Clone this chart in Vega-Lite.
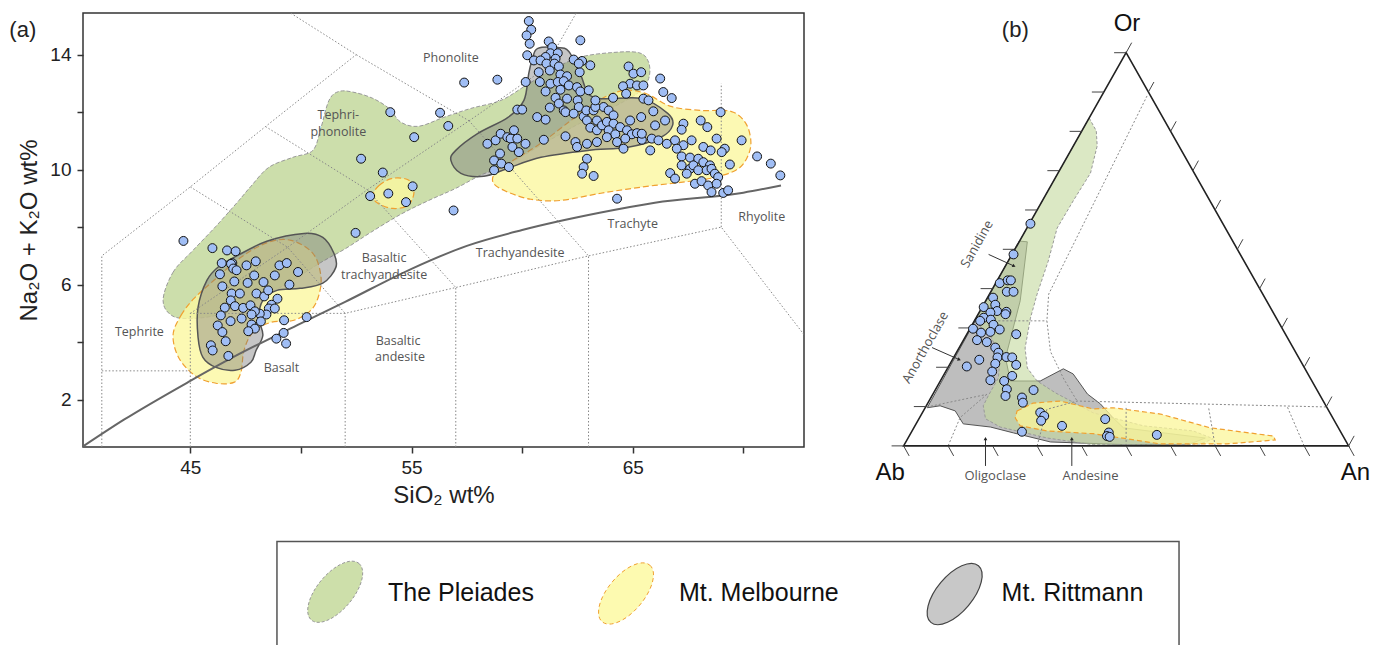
{
"$schema": "https://vega.github.io/schema/vega-lite/v6.json",
"padding": {"left": 8, "top": 12, "right": 0, "bottom": 0},
"background": "white",
"config": {"view": {"stroke": null}, "font": "Liberation Sans"},
"spacing": 29,
"vconcat": [
{"hconcat": [
{
"width": 721, "height": 434,
"view": {"stroke": "#333", "strokeWidth": 1.5},
"encoding": {
 "x": {"field": "x", "type": "quantitative", "scale": {"domain": [40.15, 72.74], "nice": false, "zero": false},
  "axis": {"values": [45, 50, 55, 60, 65, 70], "labelExpr": "datum.value % 10 == 5 ? datum.label : ''", "title": "SiO\u2082 wt%", "grid": false, "domain": false, "tickSize": 6, "tickColor": "#333", "tickWidth": 1.5, "labelFont": "Liberation Sans", "labelFontSize": 19, "labelColor": "#222", "labelPadding": 5, "titleFont": "Liberation Sans", "titleFontSize": 24, "titleFontWeight": "normal", "titleColor": "#222", "titlePadding": 6}},
 "y": {"field": "y", "type": "quantitative", "scale": {"domain": [0.351, 15.45], "nice": false, "zero": false},
  "axis": {"values": [2, 4, 6, 8, 10, 12, 14], "labelExpr": "datum.value % 4 == 2 ? datum.label : ''", "title": "Na\u2082O + K\u2082O wt%", "grid": false, "domain": false, "tickSize": 6, "tickColor": "#333", "tickWidth": 1.5, "labelFont": "Liberation Sans", "labelFontSize": 19, "labelColor": "#222", "labelPadding": 6, "titleFont": "Liberation Sans", "titleFontSize": 24, "titleFontWeight": "normal", "titleColor": "#222", "titlePadding": 8}}
},
"layer": [
 {"data": {"values": [{"x":43.77,"y":5.45},{"x":44.22,"y":6.43},{"x":45.12,"y":7.19},{"x":46.16,"y":8.03},{"x":47.2,"y":8.93},{"x":47.74,"y":9.42},{"x":48.55,"y":10.08},{"x":49.64,"y":10.43},{"x":50.54,"y":10.67},{"x":50.9,"y":11.44},{"x":51.27,"y":12.41},{"x":51.72,"y":12.72},{"x":52.4,"y":12.69},{"x":53.25,"y":12.48},{"x":53.98,"y":12.13},{"x":54.52,"y":11.65},{"x":55.33,"y":11.51},{"x":56.46,"y":11.82},{"x":57.68,"y":12.13},{"x":59.04,"y":12.41},{"x":60.17,"y":12.93},{"x":61.3,"y":13.45},{"x":62.56,"y":13.9},{"x":64.01,"y":14.07},{"x":65.27,"y":14.07},{"x":65.72,"y":13.73},{"x":65.72,"y":13.17},{"x":65.27,"y":12.69},{"x":64.01,"y":12.13},{"x":62.43,"y":11.54},{"x":60.85,"y":10.85},{"x":59.26,"y":10.15},{"x":58.13,"y":9.81},{"x":57.0,"y":9.35},{"x":55.78,"y":8.93},{"x":54.52,"y":8.45},{"x":53.16,"y":7.82},{"x":52.03,"y":7.26},{"x":50.9,"y":6.77},{"x":49.77,"y":6.22},{"x":48.65,"y":5.73},{"x":47.52,"y":5.28},{"x":46.39,"y":4.97},{"x":45.26,"y":4.83},{"x":44.22,"y":4.9}]},
  "mark": {"type": "line", "interpolate": "cardinal-closed", "fill": "#c3d89c", "fillOpacity": 0.85, "stroke": "#999", "strokeWidth": 1, "strokeDash": [4, 2]},
  "encoding": {"order": {"value": null}}},
 {"data": {"values": [
  {"p":"a","x":44.22,"y":4.24},{"p":"a","x":44.58,"y":4.93},{"p":"a","x":45.17,"y":5.52},{"p":"a","x":46.07,"y":6.15},{"p":"a","x":47.29,"y":6.95},{"p":"a","x":48.51,"y":7.47},{"p":"a","x":49.55,"y":7.54},{"p":"a","x":50.54,"y":7.09},{"p":"a","x":50.9,"y":6.32},{"p":"a","x":50.81,"y":5.63},{"p":"a","x":50.45,"y":5.11},{"p":"a","x":49.68,"y":4.76},{"p":"a","x":48.65,"y":4.69},{"p":"a","x":47.83,"y":4.34},{"p":"a","x":47.43,"y":3.72},{"p":"a","x":47.29,"y":2.95},{"p":"a","x":46.97,"y":2.6},{"p":"a","x":46.16,"y":2.57},{"p":"a","x":45.26,"y":2.81},{"p":"a","x":44.49,"y":3.44},
  {"p":"b","x":53.25,"y":9.1},{"p":"b","x":53.53,"y":9.45},{"p":"b","x":54.16,"y":9.7},{"p":"b","x":54.88,"y":9.63},{"p":"b","x":55.11,"y":9.21},{"p":"b","x":54.84,"y":8.76},{"p":"b","x":54.16,"y":8.65},{"p":"b","x":53.48,"y":8.83},
  {"p":"c","x":58.68,"y":9.56},{"p":"c","x":58.86,"y":9.98},{"p":"c","x":59.58,"y":10.32},{"p":"c","x":60.85,"y":10.92},{"p":"c","x":62.2,"y":11.71},{"p":"c","x":63.47,"y":12.41},{"p":"c","x":64.55,"y":12.75},{"p":"c","x":65.59,"y":12.65},{"p":"c","x":66.72,"y":12.2},{"p":"c","x":68.08,"y":12.06},{"p":"c","x":69.43,"y":12.03},{"p":"c","x":70.11,"y":11.61},{"p":"c","x":70.34,"y":10.95},{"p":"c","x":70.15,"y":10.39},{"p":"c","x":69.66,"y":9.98},{"p":"c","x":68.53,"y":9.7},{"p":"c","x":67.17,"y":9.56},{"p":"c","x":65.36,"y":9.39},{"p":"c","x":63.56,"y":9.18},{"p":"c","x":61.75,"y":8.93},{"p":"c","x":60.39,"y":8.97},{"p":"c","x":59.26,"y":9.25}]},
  "mark": {"type": "line", "interpolate": "cardinal-closed", "fill": "#fbf7a0", "fillOpacity": 0.8, "stroke": "#f0a030", "strokeWidth": 1.2, "strokeDash": [6, 3]},
  "encoding": {"order": {"value": null}, "detail": {"field": "p"}}},
 {"data": {"values": [
  {"p":"a","x":60.71,"y":14.22},{"p":"a","x":61.57,"y":14.25},{"p":"a","x":62.11,"y":14.11},{"p":"a","x":62.65,"y":13.28},{"p":"a","x":63.24,"y":12.51},{"p":"a","x":65.36,"y":12.48},{"p":"a","x":66.58,"y":11.96},{"p":"a","x":66.8,"y":11.54},{"p":"a","x":66.26,"y":11.12},{"p":"a","x":64.78,"y":10.78},{"p":"a","x":62.97,"y":10.67},{"p":"a","x":60.85,"y":10.43},{"p":"a","x":59.36,"y":10.05},{"p":"a","x":58.27,"y":9.77},{"p":"a","x":57.23,"y":9.87},{"p":"a","x":56.78,"y":10.32},{"p":"a","x":57.0,"y":10.67},{"p":"a","x":58.0,"y":11.26},{"p":"a","x":59.36,"y":11.82},{"p":"a","x":60.08,"y":12.41},{"p":"a","x":60.3,"y":13.35},{"p":"a","x":60.48,"y":13.9},
  {"p":"b","x":47.06,"y":6.98},{"p":"b","x":48.46,"y":7.51},{"p":"b","x":50.14,"y":7.78},{"p":"b","x":50.99,"y":7.64},{"p":"b","x":51.49,"y":7.09},{"p":"b","x":51.58,"y":6.6},{"p":"b","x":50.99,"y":6.05},{"p":"b","x":49.96,"y":5.87},{"p":"b","x":48.92,"y":5.8},{"p":"b","x":48.28,"y":5.45},{"p":"b","x":48.1,"y":4.83},{"p":"b","x":48.28,"y":4.24},{"p":"b","x":47.97,"y":3.71},{"p":"b","x":47.74,"y":3.3},{"p":"b","x":47.02,"y":3.02},{"p":"b","x":46.16,"y":3.12},{"p":"b","x":45.57,"y":3.47},{"p":"b","x":45.35,"y":4.17},{"p":"b","x":45.35,"y":5.21},{"p":"b","x":45.75,"y":6.15},{"p":"b","x":46.3,"y":6.64}]},
  "mark": {"type": "line", "interpolate": "cardinal-closed", "fill": "#787878", "fillOpacity": 0.42, "stroke": "#555", "strokeWidth": 1.5},
  "encoding": {"order": {"value": null}, "detail": {"field": "p"}}},
 {"data": {"values": [
  {"s":1,"x":41,"y":0.351},{"s":1,"x":41,"y":7},{"s":1,"x":45,"y":9.4},{"s":1,"x":48.4,"y":11.5},{"s":1,"x":52.5,"y":14},{"s":1,"x":48.4,"y":16},
  {"s":2,"x":41,"y":3},{"s":2,"x":45,"y":3},
  {"s":3,"x":45,"y":0.351},{"s":3,"x":45,"y":5},{"s":3,"x":52,"y":5},{"s":3,"x":57,"y":5.9},{"s":3,"x":63,"y":7},{"s":3,"x":69,"y":8},{"s":3,"x":77,"y":0},
  {"s":4,"x":52,"y":0.351},{"s":4,"x":52,"y":5},
  {"s":5,"x":57,"y":0.351},{"s":5,"x":57,"y":5.9},
  {"s":6,"x":63,"y":0.351},{"s":6,"x":63,"y":7},
  {"s":7,"x":45,"y":5},{"s":7,"x":49.4,"y":7.3},{"s":7,"x":52,"y":5},
  {"s":8,"x":49.4,"y":7.3},{"s":8,"x":53,"y":9.3},{"s":8,"x":57,"y":5.9},
  {"s":9,"x":53,"y":9.3},{"s":9,"x":57.6,"y":11.7},{"s":9,"x":63,"y":7},
  {"s":10,"x":45,"y":9.4},{"s":10,"x":49.4,"y":7.3},
  {"s":11,"x":48.4,"y":11.5},{"s":11,"x":53,"y":9.3},
  {"s":12,"x":52.5,"y":14},{"s":12,"x":57.6,"y":11.7},
  {"s":13,"x":57.6,"y":11.7},{"s":13,"x":61,"y":13.5},{"s":13,"x":63,"y":16.2},
  {"s":14,"x":69,"y":8},{"s":14,"x":69,"y":13}]},
  "mark": {"type": "line", "stroke": "#888", "strokeWidth": 1, "strokeDash": [1.5, 2], "clip": true},
  "encoding": {"order": {"value": null}, "detail": {"field": "s"}}},
 {"data": {"values": [{"x":40.15,"y":0.37},{"x":42,"y":1.3},{"x":45,"y":2.65},{"x":47,"y":3.5},{"x":50,"y":4.65},{"x":52,"y":5.4},{"x":55,"y":6.55},{"x":57.5,"y":7.35},{"x":60,"y":7.9},{"x":63.5,"y":8.5},{"x":66,"y":8.85},{"x":70,"y":9.2},{"x":71.7,"y":9.45}]},
  "mark": {"type": "line", "interpolate": "monotone", "stroke": "#666", "strokeWidth": 2},
  "encoding": {"order": {"value": null}}},
 {"data": {"values": [{"x":56.78,"y":13.87,"t":"Phonolite"},{"x":51.69,"y":11.91,"t":"Tephri-"},{"x":51.69,"y":11.31,"t":"phonolite"},{"x":53.76,"y":6.91,"t":"Basaltic"},{"x":53.76,"y":6.33,"t":"trachyandesite"},{"x":59.91,"y":7.09,"t":"Trachyandesite"},{"x":65.0,"y":8.1,"t":"Trachyte"},{"x":70.83,"y":8.34,"t":"Rhyolite"},{"x":42.7,"y":4.34,"t":"Tephrite"},{"x":49.12,"y":3.09,"t":"Basalt"},{"x":54.39,"y":4.03,"t":"Basaltic"},{"x":54.48,"y":3.47,"t":"andesite"}]},
  "mark": {"type": "text", "font": "Open Sans", "fontSize": 12.5, "color": "#555", "align": "center", "baseline": "middle"},
  "encoding": {"text": {"field": "t"}}},
 {"data": {"values": [
  {"x":44.69,"y":7.52},{"x":46.0,"y":7.27},{"x":46.66,"y":7.19},{"x":47.05,"y":7.16},{"x":46.42,"y":6.75},{"x":46.9,"y":6.75},{"x":46.84,"y":6.72},{"x":46.94,"y":6.56},{"x":47.09,"y":6.5},{"x":47.54,"y":6.67},{"x":47.96,"y":6.81},{"x":46.34,"y":6.36},{"x":46.99,"y":6.11},{"x":47.59,"y":6.06},{"x":47.89,"y":6.32},{"x":48.31,"y":6.09},{"x":49.03,"y":6.67},{"x":49.36,"y":6.75},{"x":49.87,"y":6.44},{"x":48.82,"y":6.32},{"x":49.48,"y":6.0},{"x":46.45,"y":5.94},{"x":46.87,"y":5.69},{"x":47.24,"y":5.69},{"x":46.83,"y":5.45},{"x":46.56,"y":5.2},{"x":47.02,"y":5.25},{"x":47.39,"y":5.19},{"x":47.72,"y":5.28},{"x":47.99,"y":5.69},{"x":48.34,"y":5.59},{"x":48.52,"y":5.8},{"x":48.94,"y":5.51},{"x":48.67,"y":5.3},{"x":48.55,"y":5.17},{"x":48.82,"y":5.17},{"x":48.44,"y":4.96},{"x":48.14,"y":4.99},{"x":47.92,"y":5.07},{"x":46.38,"y":4.93},{"x":46.82,"y":4.73},{"x":47.32,"y":4.82},{"x":47.77,"y":4.96},{"x":48.19,"y":4.72},{"x":47.77,"y":4.61},{"x":47.92,"y":4.47},{"x":47.62,"y":4.38},{"x":46.24,"y":4.58},{"x":46.45,"y":4.35},{"x":46.6,"y":4.03},{"x":45.93,"y":3.89},{"x":46.01,"y":3.71},{"x":46.72,"y":3.52},{"x":49.24,"y":4.76},{"x":50.26,"y":4.87},{"x":49.22,"y":4.32},{"x":48.89,"y":4.12},{"x":49.33,"y":3.95},
  {"x":57.38,"y":13.03},{"x":54.04,"y":12.0},{"x":56.29,"y":11.98},{"x":56.66,"y":11.52},{"x":55.12,"y":11.13},{"x":52.72,"y":10.38},{"x":53.7,"y":9.9},{"x":55.05,"y":9.42},{"x":53.13,"y":9.08},{"x":53.95,"y":9.17},{"x":54.75,"y":8.87},{"x":56.9,"y":8.58},{"x":52.47,"y":7.8},
  {"x":60.3,"y":15.17},{"x":60.41,"y":14.87},{"x":60.2,"y":14.67},{"x":60.34,"y":14.38},{"x":62.63,"y":14.5},
  {"x":61.2,"y":14.46},{"x":61.36,"y":14.26},{"x":61.28,"y":14.05},{"x":61.61,"y":14.05},{"x":61.06,"y":13.92},{"x":61.51,"y":13.86},{"x":60.23,"y":13.98},{"x":60.53,"y":13.8},{"x":60.83,"y":13.8},{"x":61.1,"y":13.69},{"x":61.46,"y":13.69},{"x":61.66,"y":13.59},
  {"x":62.33,"y":13.83},{"x":62.71,"y":13.78},{"x":63.08,"y":13.63},{"x":62.6,"y":13.39},{"x":62.56,"y":13.69},
  {"x":60.75,"y":13.39},{"x":61.25,"y":13.45},{"x":61.73,"y":13.31},{"x":62.03,"y":13.25},{"x":60.8,"y":13.05},{"x":61.28,"y":12.99},{"x":61.61,"y":13.05},{"x":61.88,"y":13.08},{"x":62.11,"y":12.93},{"x":62.48,"y":12.87},{"x":62.63,"y":12.72},{"x":63.01,"y":12.76},{"x":61.73,"y":12.78},{"x":61.06,"y":12.72},{"x":61.51,"y":12.5},{"x":62.03,"y":12.47},{"x":62.51,"y":12.41},{"x":61.66,"y":12.3},{"x":61.25,"y":12.16},{"x":62.56,"y":12.18},{"x":61.88,"y":12.06},
  {"x":60.16,"y":13.05},{"x":58.88,"y":13.13},{"x":59.78,"y":12.09},{"x":60.0,"y":12.09},{"x":60.68,"y":11.83},{"x":61.06,"y":11.74},
  {"x":61.96,"y":12.0},{"x":62.33,"y":11.95},{"x":62.78,"y":11.85},{"x":62.9,"y":12.06},{"x":63.23,"y":12.06},{"x":63.38,"y":11.71},{"x":63.68,"y":12.18},{"x":63.91,"y":12.06},{"x":64.13,"y":11.89},{"x":63.31,"y":12.18},{"x":62.93,"y":11.71},{"x":63.08,"y":11.46},{"x":63.38,"y":11.37},{"x":63.61,"y":11.54},{"x":63.83,"y":11.66},{"x":64.13,"y":11.6},{"x":64.43,"y":11.48},{"x":63.91,"y":11.37},{"x":64.21,"y":11.23},{"x":64.74,"y":11.37},{"x":64.96,"y":11.23},{"x":65.19,"y":11.27},{"x":65.41,"y":11.04},{"x":64.88,"y":11.71},{"x":65.38,"y":11.83},{"x":64.11,"y":12.5},{"x":63.31,"y":12.41},
  {"x":58.43,"y":10.9},{"x":58.8,"y":11.02},{"x":59.03,"y":11.25},{"x":59.33,"y":11.13},{"x":59.63,"y":11.37},{"x":59.48,"y":11.08},{"x":59.78,"y":11.08},{"x":59.56,"y":10.79},{"x":59.85,"y":10.61},{"x":60.15,"y":10.9},{"x":59.0,"y":10.56},{"x":58.73,"y":10.32},{"x":59.06,"y":10.21},{"x":59.4,"y":10.09},{"x":58.73,"y":9.98},{"x":60.98,"y":11.04},{"x":61.96,"y":11.16},{"x":62.41,"y":10.96},{"x":62.48,"y":10.79},{"x":62.93,"y":10.9},{"x":63.38,"y":10.96},{"x":63.83,"y":11.13},{"x":64.29,"y":10.96},{"x":64.66,"y":11.08},{"x":64.58,"y":10.73},{"x":62.93,"y":10.38},{"x":62.78,"y":10.09},{"x":62.71,"y":9.86},{"x":63.23,"y":9.78},{"x":64.29,"y":8.99},
  {"x":64.81,"y":13.59},{"x":65.03,"y":13.34},{"x":65.38,"y":13.39},{"x":64.88,"y":12.99},{"x":64.56,"y":12.9},{"x":65.19,"y":12.93},{"x":64.7,"y":12.64},{"x":65.48,"y":12.47},
  {"x":66.24,"y":13.17},{"x":66.38,"y":12.7},{"x":66.76,"y":12.49},{"x":65.48,"y":12.93},{"x":65.71,"y":12.41},{"x":65.93,"y":12.03},{"x":66.46,"y":11.71},{"x":66.01,"y":11.54},{"x":65.41,"y":11.25},{"x":65.86,"y":11.08},{"x":66.16,"y":11.02},{"x":65.79,"y":10.67},{"x":66.54,"y":10.9},{"x":66.91,"y":11.02},{"x":67.29,"y":11.6},{"x":67.21,"y":11.39},{"x":68.07,"y":11.71},{"x":68.37,"y":11.48},{"x":68.97,"y":12.0},{"x":67.66,"y":11.02},{"x":67.29,"y":10.85},{"x":66.99,"y":10.73},{"x":67.21,"y":10.46},{"x":67.59,"y":10.42},{"x":67.96,"y":10.38},{"x":68.19,"y":10.79},{"x":68.52,"y":10.67},{"x":68.79,"y":11.08},{"x":69.16,"y":10.73},{"x":69.02,"y":10.61},{"x":68.19,"y":10.26},{"x":68.49,"y":10.15},{"x":67.21,"y":10.15},{"x":67.59,"y":10.03},{"x":67.74,"y":10.15},{"x":67.96,"y":9.98},{"x":68.34,"y":9.98},{"x":68.56,"y":10.03},{"x":68.71,"y":9.86},{"x":68.86,"y":9.74},{"x":66.69,"y":9.88},{"x":66.91,"y":9.69},{"x":67.81,"y":9.51},{"x":68.11,"y":9.6},{"x":68.41,"y":9.45},{"x":68.79,"y":9.51},{"x":68.56,"y":9.22},{"x":69.09,"y":9.19},{"x":69.31,"y":9.28},{"x":69.39,"y":10.18},{"x":69.92,"y":11.02},{"x":70.62,"y":10.46},{"x":71.24,"y":10.21},{"x":71.67,"y":9.8},{"x":67.44,"y":9.86}]},
  "mark": {"type": "circle", "color": "#a0bef5", "stroke": "#111", "strokeWidth": 1, "size": 80, "opacity": 1}},
 {"data": {"values": [{"x":36.82,"y":14.85,"t":"(a)"}]},
  "mark": {"type": "text", "font": "Liberation Sans", "fontSize": 22, "color": "#222", "align": "left", "baseline": "middle"},
  "encoding": {"text": {"field": "t"}}}
]
},
{
"width": 514, "height": 484,
"encoding": {
 "x": {"field": "x", "type": "quantitative", "scale": {"domain": [-0.08, 1.075], "nice": false, "zero": false}, "axis": null},
 "y": {"field": "y", "type": "quantitative", "scale": {"domain": [-0.13, 1.101], "nice": false, "zero": false}, "axis": null}
},
"layer": [
 {"data": {"values": [{"x":0.26,"y":0.521},{"x":0.278,"y":0.519},{"x":0.262,"y":0.369},{"x":0.229,"y":0.224},{"x":0.24,"y":0.165},{"x":0.307,"y":0.165},{"x":0.359,"y":0.196},{"x":0.381,"y":0.183},{"x":0.413,"y":0.132},{"x":0.442,"y":0.107},{"x":0.471,"y":0.071},{"x":0.494,"y":0.046},{"x":0.599,"y":0.031},{"x":0.678,"y":0.02},{"x":0.644,"y":0.005},{"x":0.503,"y":0.003},{"x":0.33,"y":0.01},{"x":0.247,"y":0.033},{"x":0.195,"y":0.048},{"x":0.134,"y":0.056},{"x":0.116,"y":0.089},{"x":0.082,"y":0.102},{"x":0.053,"y":0.097}]},
  "mark": {"type": "line", "interpolate": "linear-closed", "fill": "#7d7d7d", "fillOpacity": 0.5, "stroke": "#555", "strokeWidth": 1},
  "encoding": {"order": {"value": null}}},
 {"data": {"values": [{"x":0.417,"y":0.834},{"x":0.433,"y":0.801},{"x":0.435,"y":0.763},{"x":0.42,"y":0.694},{"x":0.381,"y":0.623},{"x":0.345,"y":0.554},{"x":0.325,"y":0.47},{"x":0.3,"y":0.386},{"x":0.285,"y":0.325},{"x":0.273,"y":0.249},{"x":0.278,"y":0.198},{"x":0.3,"y":0.165},{"x":0.341,"y":0.135},{"x":0.426,"y":0.084},{"x":0.539,"y":0.051},{"x":0.651,"y":0.038},{"x":0.696,"y":0.018},{"x":0.667,"y":0.005},{"x":0.577,"y":0.003},{"x":0.426,"y":0.003},{"x":0.323,"y":0.02},{"x":0.217,"y":0.048},{"x":0.184,"y":0.069},{"x":0.179,"y":0.102},{"x":0.19,"y":0.127},{"x":0.213,"y":0.173},{"x":0.217,"y":0.229},{"x":0.195,"y":0.28},{"x":0.159,"y":0.318}]},
  "mark": {"type": "line", "interpolate": "linear-closed", "fill": "#c3d89c", "fillOpacity": 0.6, "stroke": "#999", "strokeWidth": 1, "strokeDash": [3, 2]},
  "encoding": {"order": {"value": null}}},
 {"data": {"values": [{"x":0.255,"y":0.089},{"x":0.291,"y":0.109},{"x":0.352,"y":0.114},{"x":0.426,"y":0.094},{"x":0.471,"y":0.097},{"x":0.577,"y":0.081},{"x":0.689,"y":0.046},{"x":0.831,"y":0.025},{"x":0.835,"y":0.015},{"x":0.727,"y":0.005},{"x":0.577,"y":0.005},{"x":0.426,"y":0.031},{"x":0.323,"y":0.038},{"x":0.262,"y":0.051},{"x":0.251,"y":0.071}]},
  "mark": {"type": "line", "interpolate": "linear-closed", "fill": "#fbf59a", "fillOpacity": 0.75, "stroke": "#f0a030", "strokeWidth": 1.2, "strokeDash": [5, 3]},
  "encoding": {"order": {"value": null}}},
 {"data": {"values": [
  {"s":1,"x":0.547,"y":0.89},{"s":1,"x":0.326,"y":0.386},{"s":1,"x":0.322,"y":0.318},
  {"s":2,"x":0.159,"y":0.318},{"s":2,"x":0.322,"y":0.318},
  {"s":3,"x":0.0526,"y":0.099},{"s":3,"x":0.187,"y":0.131},
  {"s":4,"x":0.187,"y":0.131},{"s":4,"x":0.127,"y":0.072},{"s":4,"x":0.1,"y":0},
  {"s":5,"x":0.3,"y":0},{"s":5,"x":0.322,"y":0.093},{"s":5,"x":0.39,"y":0.114},{"s":5,"x":0.951,"y":0.099},
  {"s":7,"x":0.5,"y":0},{"s":7,"x":0.5,"y":0.102},
  {"s":8,"x":0.7,"y":0},{"s":8,"x":0.685,"y":0.1},
  {"s":9,"x":0.9,"y":0},{"s":9,"x":0.862,"y":0.1},
  {"s":10,"x":0.322,"y":0.318},{"s":10,"x":0.33,"y":0.24},{"s":10,"x":0.36,"y":0.17},{"s":10,"x":0.39,"y":0.114}]},
  "mark": {"type": "line", "stroke": "#888", "strokeWidth": 1, "strokeDash": [2, 2]},
  "encoding": {"order": {"value": null}, "detail": {"field": "s"}}},
 {"data": {"values": [{"x":0,"y":0},{"x":1,"y":0},{"x":0.5,"y":1}]},
  "mark": {"type": "line", "interpolate": "linear-closed", "stroke": "#222", "strokeWidth": 1.6},
  "encoding": {"order": {"value": null}}},
 {"data": {"values": [
  {"x":0,"y":0,"x2":-0.027,"y2":0},{"x":0.05,"y":0.1,"x2":0.023,"y2":0.1},{"x":0.1,"y":0.2,"x2":0.073,"y2":0.2},{"x":0.15,"y":0.3,"x2":0.123,"y2":0.3},{"x":0.2,"y":0.4,"x2":0.173,"y2":0.4},{"x":0.25,"y":0.5,"x2":0.223,"y2":0.5},{"x":0.3,"y":0.6,"x2":0.273,"y2":0.6},{"x":0.35,"y":0.7,"x2":0.323,"y2":0.7},{"x":0.4,"y":0.8,"x2":0.373,"y2":0.8},{"x":0.45,"y":0.9,"x2":0.423,"y2":0.9},{"x":0.5,"y":1.0,"x2":0.473,"y2":1.0},
  {"x":1,"y":0,"x2":1.0125,"y2":0.0255},{"x":0.95,"y":0.1,"x2":0.9625,"y2":0.1255},{"x":0.9,"y":0.2,"x2":0.9125,"y2":0.2255},{"x":0.85,"y":0.3,"x2":0.8625,"y2":0.3255},{"x":0.8,"y":0.4,"x2":0.8125,"y2":0.4255},{"x":0.75,"y":0.5,"x2":0.7625,"y2":0.5255},{"x":0.7,"y":0.6,"x2":0.7125,"y2":0.6255},{"x":0.65,"y":0.7,"x2":0.6625,"y2":0.7255},{"x":0.6,"y":0.8,"x2":0.6125,"y2":0.8255},{"x":0.55,"y":0.9,"x2":0.5625,"y2":0.9255},{"x":0.5,"y":1.0,"x2":0.5125,"y2":1.0255},
  {"x":0,"y":0,"x2":0.0125,"y2":-0.0255},{"x":0.1,"y":0,"x2":0.1125,"y2":-0.0255},{"x":0.2,"y":0,"x2":0.2125,"y2":-0.0255},{"x":0.3,"y":0,"x2":0.3125,"y2":-0.0255},{"x":0.4,"y":0,"x2":0.4125,"y2":-0.0255},{"x":0.5,"y":0,"x2":0.5125,"y2":-0.0255},{"x":0.6,"y":0,"x2":0.6125,"y2":-0.0255},{"x":0.7,"y":0,"x2":0.7125,"y2":-0.0255},{"x":0.8,"y":0,"x2":0.8125,"y2":-0.0255},{"x":0.9,"y":0,"x2":0.9125,"y2":-0.0255},{"x":1,"y":0,"x2":1.0125,"y2":-0.0255}]},
  "mark": {"type": "rule", "stroke": "#444", "strokeWidth": 1},
  "encoding": {"x2": {"field": "x2"}, "y2": {"field": "y2"}}},
 {"data": {"values": [{"x":0.191,"y":0.487,"x2":0.247,"y2":0.458},{"x":0.064,"y":0.25,"x2":0.124,"y2":0.22},{"x":0.184,"y":-0.051,"x2":0.184,"y2":0.017},{"x":0.378,"y":-0.051,"x2":0.378,"y2":0.017}]},
  "mark": {"type": "rule", "stroke": "#333", "strokeWidth": 1},
  "encoding": {"x2": {"field": "x2"}, "y2": {"field": "y2"}}},
 {"data": {"values": [{"x":0.247,"y":0.458},{"x":0.124,"y":0.22}]},
  "mark": {"type": "point", "shape": "triangle", "filled": true, "color": "#222", "size": 14, "angle": 115, "opacity": 1}},
 {"data": {"values": [{"x":0.184,"y":0.017},{"x":0.378,"y":0.017}]},
  "mark": {"type": "point", "shape": "triangle", "filled": true, "color": "#222", "size": 14, "angle": 0, "opacity": 1}},
 {"data": {"values": [{"x":0.285,"y":0.565},{"x":0.247,"y":0.487},{"x":0.216,"y":0.414},{"x":0.234,"y":0.421},{"x":0.241,"y":0.421},{"x":0.232,"y":0.392},{"x":0.247,"y":0.392},{"x":0.201,"y":0.377},{"x":0.18,"y":0.353},{"x":0.206,"y":0.359},{"x":0.21,"y":0.343},{"x":0.231,"y":0.341},{"x":0.229,"y":0.335},{"x":0.195,"y":0.339},{"x":0.18,"y":0.326},{"x":0.196,"y":0.321},{"x":0.202,"y":0.308},{"x":0.172,"y":0.318},{"x":0.156,"y":0.298},{"x":0.174,"y":0.288},{"x":0.195,"y":0.29},{"x":0.216,"y":0.296},{"x":0.253,"y":0.284},{"x":0.165,"y":0.269},{"x":0.187,"y":0.264},{"x":0.206,"y":0.25},{"x":0.213,"y":0.237},{"x":0.211,"y":0.225},{"x":0.231,"y":0.226},{"x":0.244,"y":0.225},{"x":0.206,"y":0.209},{"x":0.253,"y":0.206},{"x":0.17,"y":0.219},{"x":0.142,"y":0.202},{"x":0.199,"y":0.189},{"x":0.195,"y":0.167},{"x":0.244,"y":0.178},{"x":0.226,"y":0.165},{"x":0.232,"y":0.144},{"x":0.229,"y":0.127},{"x":0.292,"y":0.142},{"x":0.266,"y":0.123},{"x":0.268,"y":0.11},{"x":0.307,"y":0.085},{"x":0.316,"y":0.076},{"x":0.309,"y":0.064},{"x":0.356,"y":0.051},{"x":0.266,"y":0.036},{"x":0.453,"y":0.068},{"x":0.461,"y":0.034},{"x":0.457,"y":0.025},{"x":0.463,"y":0.023},{"x":0.569,"y":0.028}]},
  "mark": {"type": "circle", "color": "#a0bef5", "stroke": "#111", "strokeWidth": 1, "size": 80, "opacity": 1}},
 {"data": {"values": [{"x":0.206,"y":-0.076,"t":"Oligoclase"},{"x":0.42,"y":-0.076,"t":"Andesine"}]},
  "mark": {"type": "text", "font": "Open Sans", "fontSize": 13, "color": "#555", "align": "center", "baseline": "middle"},
  "encoding": {"text": {"field": "t"}}},
 {"data": {"values": [{"x":0.165,"y":0.513,"t":"Sanidine"},{"x":0.049,"y":0.25,"t":"Anorthoclase"}]},
  "mark": {"type": "text", "font": "Open Sans", "fontSize": 13, "color": "#555", "align": "center", "baseline": "middle", "angle": -60.5},
  "encoding": {"text": {"field": "t"}}},
 {"data": {"values": [{"x":-0.03,"y":-0.068,"t":"Ab"},{"x":1.015,"y":-0.068,"t":"An"},{"x":0.502,"y":1.072,"t":"Or"}]},
  "mark": {"type": "text", "font": "Liberation Sans", "fontSize": 24, "color": "#111", "align": "center", "baseline": "middle"},
  "encoding": {"text": {"field": "t"}}},
 {"data": {"values": [{"x":0.251,"y":1.059,"t":"(b)"}]},
  "mark": {"type": "text", "font": "Liberation Sans", "fontSize": 22, "color": "#222", "align": "center", "baseline": "middle"},
  "encoding": {"text": {"field": "t"}}}
]
}
], "spacing": 63},
{
"width": 1300, "height": 108,
"layer": [
 {"data": {"values": [{"x":14.92,"x2":84.31,"y":9.583,"y2":-3}]},
  "mark": {"type": "rect", "fill": "transparent", "stroke": "#555", "strokeWidth": 1.5, "clip": true},
  "encoding": {"x": {"field": "x", "type": "quantitative", "scale": {"domain": [0, 100], "nice": false, "zero": false}, "axis": null}, "x2": {"field": "x2"}, "y": {"field": "y", "type": "quantitative", "scale": {"domain": [0, 10], "nice": false, "zero": false}, "axis": null}, "y2": {"field": "y2"}}},
 {"data": {"values": [{"x":19.4,"y":4.93}]},
  "mark": {"type": "point", "shape": "M0.643,-0.766A0.486,1,40,0,1,-0.643,0.766A0.486,1,40,0,1,0.643,-0.766Z", "size": 5476, "filled": true, "fill": "#cddfaa", "stroke": "#999", "strokeWidth": 1, "strokeDash": [3, 2], "opacity": 1},
  "encoding": {"x": {"field": "x", "type": "quantitative"}, "y": {"field": "y", "type": "quantitative"}}},
 {"data": {"values": [{"x":41.77,"y":4.77}]},
  "mark": {"type": "point", "shape": "M0.643,-0.766A0.486,1,40,0,1,-0.643,0.766A0.486,1,40,0,1,0.643,-0.766Z", "size": 5476, "filled": true, "fill": "#fdfab0", "stroke": "#f0a030", "strokeWidth": 1, "strokeDash": [4, 3], "opacity": 1},
  "encoding": {"x": {"field": "x", "type": "quantitative"}, "y": {"field": "y", "type": "quantitative"}}},
 {"data": {"values": [{"x":67.05,"y":4.72}]},
  "mark": {"type": "point", "shape": "M0.643,-0.766A0.486,1,40,0,1,-0.643,0.766A0.486,1,40,0,1,0.643,-0.766Z", "size": 5476, "filled": true, "fill": "#c8c8c8", "stroke": "#444", "strokeWidth": 1.2, "opacity": 1},
  "encoding": {"x": {"field": "x", "type": "quantitative"}, "y": {"field": "y", "type": "quantitative"}}},
 {"data": {"values": [{"x":23.46,"y":4.77,"t":"The Pleiades"},{"x":45.84,"y":4.77,"t":"Mt. Melbourne"},{"x":70.66,"y":4.77,"t":"Mt. Rittmann"}]},
  "mark": {"type": "text", "font": "Liberation Sans", "fontSize": 25, "color": "#111", "align": "left", "baseline": "middle"},
  "encoding": {"x": {"field": "x", "type": "quantitative"}, "y": {"field": "y", "type": "quantitative"}, "text": {"field": "t"}}}
]
}
]
}
